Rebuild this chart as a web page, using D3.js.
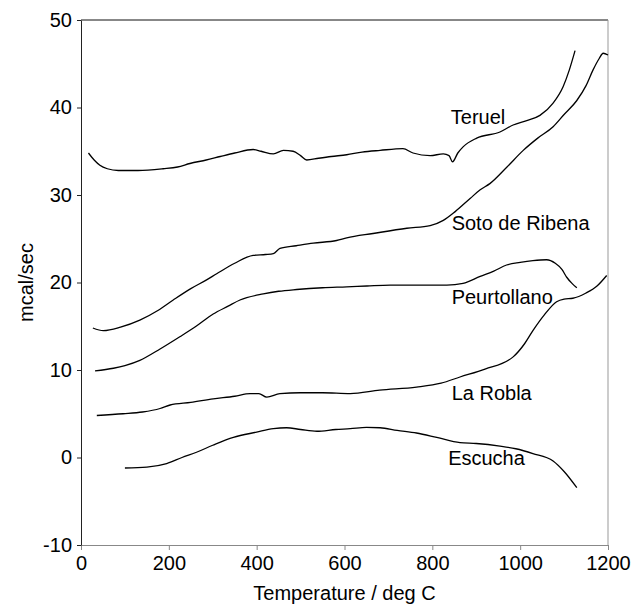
<!DOCTYPE html>
<html>
<head>
<meta charset="utf-8">
<script src="https://cdn.jsdelivr.net/npm/d3@7"></script>
<style>
	body { margin: 0; background: #fff; }
</style>
</head>
<body>
<div id="chart"></div>
<script>
// values, [temperature, mcal/sec]
var teruel = [[17,34.8],[30,34.0],[43,33.4],[60,33.0],[85,32.8],[130,32.8],[187,33.0],[220,33.2],[248,33.6],[285,34.0],[317,34.4],[350,34.8],[392,35.2],[410,35.0],[438,34.7],[461,35.1],[483,35.0],[500,34.5],[514,34.0],[541,34.2],[570,34.4],[605,34.6],[640,34.9],[681,35.1],[733,35.3],[756,34.8],[795,34.5],[825,34.7],[838,34.5],[846,33.8],[858,34.8],[870,35.5],[901,36.5],[954,37.2],[984,38.0],[1015,38.5],[1045,39.1],[1075,40.5],[1098,42.4],[1112,44.3],[1125,46.5]];
var sotoDeRibena = [[27,14.8],[51,14.5],[90,14.9],[134,15.7],[175,16.8],[210,18.0],[250,19.3],[286,20.3],[309,21.0],[350,22.2],[392,23.1],[420,23.2],[438,23.3],[453,23.9],[490,24.2],[529,24.5],[582,24.8],[605,25.1],[665,25.6],[742,26.2],[795,26.5],[825,27.1],[852,28.1],[886,29.6],[909,30.6],[931,31.3],[970,33.2],[1007,35.1],[1040,36.5],[1075,37.8],[1100,39.2],[1129,40.8],[1150,42.5],[1166,44.3],[1180,45.6],[1189,46.2],[1200,46.0]];
var peurtollano = [[32,9.9],[74,10.2],[100,10.5],[134,11.1],[180,12.4],[225,13.8],[262,15.0],[301,16.4],[335,17.3],[362,18.0],[415,18.7],[450,19.0],[491,19.2],[550,19.4],[605,19.5],[651,19.6],[704,19.7],[780,19.7],[833,19.7],[870,19.9],[909,20.7],[940,21.3],[969,22.0],[1000,22.3],[1029,22.5],[1060,22.6],[1080,22.2],[1095,21.5],[1106,20.6],[1118,19.9],[1129,19.4]];
var laRobla = [[36,4.8],[96,5.0],[140,5.2],[180,5.6],[203,6.0],[250,6.3],[301,6.7],[350,7.0],[385,7.3],[405,7.3],[423,6.9],[453,7.3],[499,7.4],[550,7.4],[613,7.3],[680,7.7],[764,8.05],[820,8.5],[863,9.2],[920,10.1],[984,11.5],[1010,13.0],[1029,14.5],[1055,16.3],[1083,17.8],[1100,18.1],[1120,18.2],[1150,18.8],[1175,19.6],[1197,20.8]];
var escucha = [[100,-1.2],[150,-1.1],[195,-0.7],[230,0.0],[263,0.6],[300,1.4],[347,2.3],[400,2.9],[438,3.3],[468,3.4],[500,3.2],[537,3.0],[580,3.2],[613,3.3],[650,3.45],[681,3.4],[720,3.1],[764,2.8],[810,2.3],[863,1.7],[900,1.6],[954,1.3],[990,1.0],[1029,0.45],[1075,-0.4],[1100,-1.6],[1129,-3.45]];

var seriesNames = ["Teruel", "Soto de Ribena", "Peurtollano", "La Robla", "Escucha"];
// where each name is written, [temperature, mcal/sec]
var labelAnchors = [[842,38.9],[844,26.8],[844,18.4],[844,7.4],[836,0.0]];

var xTicks = [0, 200, 400, 600, 800, 1000, 1200];
var yTicks = [-10, 0, 10, 20, 30, 40, 50];

var W = 632, H = 606;
var margin = {top: 20, right: 24, bottom: 61, left: 81};
var fontSize = "20px";

var svg = d3.select("#chart")
	.append("svg")
	.attr("width", W)
	.attr("height", H)
	.style("font-family", "'Liberation Sans', Arial, sans-serif");

var x = d3.scaleLinear().domain([0, 1200]).range([margin.left, W - margin.right]);
var y = d3.scaleLinear().domain([-10, 50]).range([H - margin.bottom, margin.top]);

// frame: top and right edges
svg.append("line")
	.attr("x1", x(0)).attr("x2", x(1200))
	.attr("y1", y(50)).attr("y2", y(50))
	.attr("stroke", "#111").attr("stroke-width", 1);
svg.append("line")
	.attr("x1", x(1200)).attr("x2", x(1200))
	.attr("y1", y(50)).attr("y2", y(-10))
	.attr("stroke", "#999").attr("stroke-width", 1);

var plain = function(d){ return String(d); };

var xAxis = svg.append("g")
	.attr("transform", "translate(0," + y(-10) + ")")
	.call(d3.axisBottom(x).tickValues(xTicks).tickFormat(plain).tickSize(5).tickPadding(6).tickSizeOuter(0));
xAxis.select(".domain").attr("stroke", "#888");
xAxis.selectAll(".tick line").attr("stroke", "#888");

var yAxis = svg.append("g")
	.attr("transform", "translate(" + x(0) + ",0)")
	.call(d3.axisLeft(y).tickValues(yTicks).tickFormat(plain).tickSize(4).tickPadding(5).tickSizeOuter(0));
yAxis.select(".domain").attr("stroke", "#222");
yAxis.selectAll(".tick line").attr("stroke", "#222");

svg.selectAll(".tick text")
	.attr("font-size", fontSize)
	.attr("font-family", "'Liberation Sans', Arial, sans-serif")
	.attr("fill", "#000");

svg.append("text")
	.text("Temperature / deg C")
	.attr("x", (x(0) + x(1200)) / 2)
	.attr("y", 600)
	.attr("text-anchor", "middle")
	.attr("font-size", fontSize)
	.attr("fill", "#000");

svg.append("text")
	.text("mcal/sec")
	.attr("transform", "translate(26," + (y(-10) + y(50)) / 2 + ") rotate(-90)")
	.attr("text-anchor", "middle")
	.attr("dy", "0.35em")
	.attr("font-size", fontSize)
	.attr("fill", "#000");

var line = d3.line()
	.x(function(d){ return x(d[0]); })
	.y(function(d){ return y(d[1]); })
	.curve(d3.curveMonotoneX);

svg.append("g")
	.selectAll("path")
	.data([teruel, sotoDeRibena, peurtollano, laRobla, escucha])
	.enter()
	.append("path")
	.attr("d", line)
	.attr("fill", "none")
	.attr("stroke", "#000")
	.attr("stroke-width", 1.3);

svg.append("g")
	.selectAll("text")
	.data(seriesNames)
	.enter()
	.append("text")
	.text(function(d){ return d; })
	.attr("x", function(d, i){ return x(labelAnchors[i][0]); })
	.attr("y", function(d, i){ return y(labelAnchors[i][1]); })
	.attr("dy", "0.35em")
	.attr("font-size", fontSize)
	.attr("fill", "#000");
</script>
</body>
</html>
